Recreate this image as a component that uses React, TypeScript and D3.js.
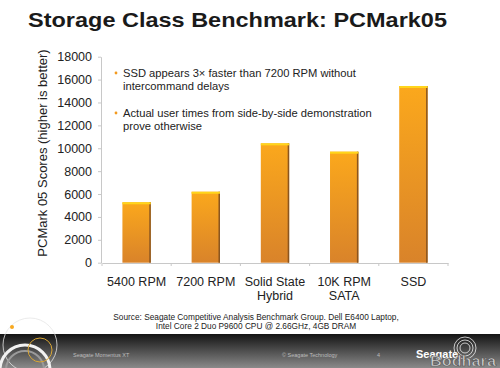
import React, { useEffect, useRef } from "react";
import * as d3 from "d3";

const categories = ["5400 RPM", "7200 RPM", "Solid State\nHybrid", "10K RPM\nSATA", "SSD"];
const scores = [5280, 6200, 10430, 9700, 15440];
const yTicks = [0, 2000, 4000, 6000, 8000, 10000, 12000, 14000, 16000, 18000];
const bullets = [
  ["SSD appears 3× faster than 7200 RPM without", "intercommand delays"],
  ["Actual user times from side-by-side demonstration", "prove otherwise"],
];
const sourceLines = [
  "Source: Seagate Competitive Analysis Benchmark Group. Dell E6400 Laptop,",
  "Intel Core 2 Duo P9600 CPU @ 2.66GHz, 4GB DRAM",
];

const W = 500;
const H = 368;
const FONT = "'Liberation Sans', Arial, sans-serif";

const App = () => {
  const svgRef = useRef<SVGSVGElement | null>(null);

  useEffect(() => {
    const svg = d3.select(svgRef.current);
    svg.selectAll("*").remove();

    // === gradients ===
    const defs = svg.append("defs");
    const barGrad = defs
      .append("linearGradient")
      .attr("id", "barGrad")
      .attr("x1", 0).attr("y1", 0).attr("x2", 0).attr("y2", 1);
    barGrad.append("stop").attr("offset", "0%").attr("stop-color", "#fba81c");
    barGrad.append("stop").attr("offset", "100%").attr("stop-color", "#d9832a");

    const footGrad = defs
      .append("linearGradient")
      .attr("id", "footGrad")
      .attr("x1", 0).attr("y1", 0).attr("x2", 0).attr("y2", 1);
    footGrad.append("stop").attr("offset", "0%").attr("stop-color", "#141414");
    footGrad.append("stop").attr("offset", "100%").attr("stop-color", "#8a8a8a");

    svg.append("rect").attr("width", W).attr("height", H).attr("fill", "#fff");

    // === title ===
    svg
      .append("text")
      .attr("x", 28)
      .attr("y", 27)
      .attr("font-family", FONT)
      .attr("font-weight", "bold")
      .attr("font-size", 21)
      .attr("fill", "#1a1a1a")
      .attr("textLength", 419)
      .attr("lengthAdjust", "spacingAndGlyphs")
      .text("Storage Class Benchmark: PCMark05");

    // === scales ===
    const x = d3.scaleBand().domain(categories).range([102, 448]).paddingInner(0.59).paddingOuter(0.295);
    const y = d3.scaleLinear().domain([0, 18000]).range([262.7, 56.7]);

    // y axis
    const yAxis = svg
      .append("g")
      .attr("transform", "translate(101,0)")
      .call(d3.axisLeft(y).tickValues(yTicks).tickSize(3).tickSizeOuter(0).tickFormat((d) => String(d)));
    yAxis.select(".domain").attr("stroke", "#c8c8c8");
    yAxis.selectAll(".tick line").attr("stroke", "#c8c8c8");
    yAxis
      .selectAll(".tick text")
      .attr("font-family", FONT)
      .attr("font-size", 12.5)
      .attr("fill", "#222")
      .attr("x", -9);

    // x axis
    const xAxis = svg
      .append("g")
      .attr("transform", "translate(0,263)")
      .call(d3.axisBottom(x).tickSize(0).tickFormat(() => ""));
    xAxis.select(".domain").attr("stroke", "#c8c8c8");
    const half = (x.step() * x.paddingInner()) / 2;
    const bandEdges = categories.map((c) => x(c)! - half).concat([x(categories[categories.length - 1])! + x.bandwidth() + half]);
    svg
      .append("g")
      .selectAll("line")
      .data(bandEdges)
      .join("line")
      .attr("x1", (d) => d).attr("x2", (d) => d)
      .attr("y1", 263).attr("y2", 266)
      .attr("stroke", "#c8c8c8");

    // category labels
    const labels = svg
      .append("g")
      .selectAll("text")
      .data(categories)
      .join("text")
      .attr("text-anchor", "middle")
      .attr("font-family", FONT)
      .attr("font-size", 12.5)
      .attr("fill", "#222")
      .attr("transform", (d) => `translate(${x(d)! + x.bandwidth() / 2},286)`);
    labels
      .selectAll("tspan")
      .data((d) => d.split("\n"))
      .join("tspan")
      .attr("x", 0)
      .attr("dy", (_, i) => (i === 0 ? 0 : 14))
      .text((d) => d);

    // y axis title
    svg
      .append("text")
      .attr("transform", "translate(47,153) rotate(-90)")
      .attr("text-anchor", "middle")
      .attr("font-family", FONT)
      .attr("font-size", 13)
      .attr("fill", "#222")
      .text("PCMark 05 Scores (higher is better)");

    // === bars ===
    const bars = svg.append("g").selectAll("g").data(scores).join("g");
    bars
      .append("rect")
      .attr("x", (_, i) => x(categories[i])!)
      .attr("y", (d) => y(d))
      .attr("width", x.bandwidth())
      .attr("height", (d) => y(0) - y(d))
      .attr("fill", "url(#barGrad)");
    bars
      .append("rect")
      .attr("x", (_, i) => x(categories[i])! + x.bandwidth() - 1.5)
      .attr("y", (d) => y(d))
      .attr("width", 1.5)
      .attr("height", (d) => y(0) - y(d))
      .attr("fill", "#8a5520");
    bars
      .append("rect")
      .attr("x", (_, i) => x(categories[i])!)
      .attr("y", (d) => y(d))
      .attr("width", x.bandwidth())
      .attr("height", 2)
      .attr("fill", "#ffd51c");

    // === bullets ===
    const bl = svg.append("g").attr("font-family", FONT).attr("font-size", 11.2).attr("fill", "#222");
    bullets.forEach((lines, bi) => {
      const y0 = 77 + bi * 40;
      bl.append("circle").attr("cx", 116).attr("cy", y0 - 4).attr("r", 1.4).attr("fill", "#f39a1e");
      lines.forEach((t, li) => {
        bl.append("text").attr("x", 123).attr("y", y0 + li * 13).text(t);
      });
    });

    // === source ===
    svg
      .append("g")
      .selectAll("text")
      .data(sourceLines)
      .join("text")
      .attr("x", 256)
      .attr("y", (_, i) => 320 + i * 9)
      .attr("text-anchor", "middle")
      .attr("font-family", FONT)
      .attr("font-size", 8.3)
      .attr("fill", "#222")
      .text((d) => d);

    // === footer ===
    svg.append("rect").attr("x", 0).attr("y", 334).attr("width", W).attr("height", H - 334).attr("fill", "url(#footGrad)");
    const deco = svg.append("g").attr("fill", "none");
    deco.append("circle").attr("cx", 30).attr("cy", 345).attr("r", 27).attr("stroke", "#e6e6e6").attr("stroke-width", 0.8);
    deco.append("circle").attr("cx", 25).attr("cy", 370).attr("r", 25).attr("stroke", "#f2f2f2").attr("stroke-width", 3);
    deco.append("circle").attr("cx", 25).attr("cy", 370).attr("r", 19).attr("stroke", "#9a9a9a").attr("stroke-width", 2);
    deco.append("circle").attr("cx", 40).attr("cy", 350).attr("r", 12).attr("stroke", "#d9a634").attr("stroke-width", 1);
    svg.append("circle").attr("cx", 12).attr("cy", 327).attr("r", 2).attr("fill", "#f8a81e");

    const foot = svg.append("g").attr("font-family", FONT).attr("font-size", 5.5).attr("fill", "#bdbdbd");
    foot.append("text").attr("x", 73).attr("y", 357).text("Seagate Momentus XT");
    foot.append("text").attr("x", 282).attr("y", 357).text("© Seagate Technology");
    foot.append("text").attr("x", 377).attr("y", 357).text("4");
    svg
      .append("text")
      .attr("x", 416)
      .attr("y", 358)
      .attr("font-family", FONT)
      .attr("font-weight", "bold")
      .attr("font-size", 11)
      .attr("fill", "#ffffff")
      .text("Seagate");
    const logo = svg.append("g").attr("fill", "none").attr("stroke", "#eeeeee").attr("stroke-width", 0.8);
    [5, 8, 11].forEach((r) => logo.append("circle").attr("cx", 465).attr("cy", 348).attr("r", r));
    svg
      .append("text")
      .attr("x", 430)
      .attr("y", 366)
      .attr("font-family", FONT)
      .attr("font-weight", "bold")
      .attr("font-size", 14)
      .attr("fill", "#d0d0d0")
      .attr("stroke", "#555")
      .attr("stroke-width", 0.6)
      .attr("textLength", 66)
      .attr("lengthAdjust", "spacingAndGlyphs")
      .text("Bodhara");
  }, []);

  return <svg ref={svgRef} width={W} height={H} style={{ display: "block", position: "absolute", left: 0, top: 0 }} />;
};

export default App;
